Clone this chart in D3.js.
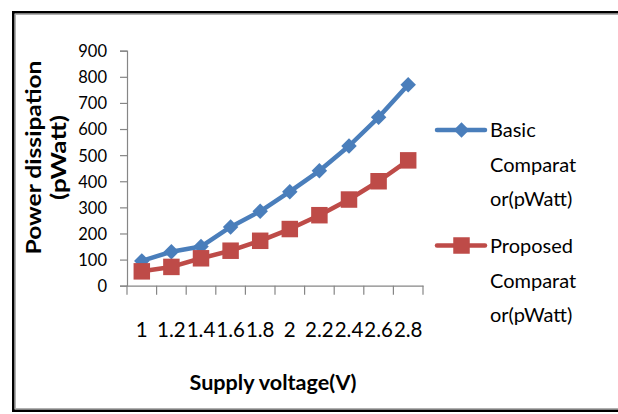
<!DOCTYPE html>
<html>
<head>
<meta charset="utf-8">
<script src="https://cdn.jsdelivr.net/npm/d3@7"></script>
<style>
  html, body { margin: 0; padding: 0; background: #fff; }
  svg { display: block; }
  text { font-family: Lato, "Open Sans", sans-serif; fill: #000; }
</style>
</head>
<body>
<svg id="chart" width="618" height="414"></svg>
<script>
// ---- data ----
const categories = ["1", "1.2", "1.4", "1.6", "1.8", "2", "2.2", "2.4", "2.6", "2.8"];
const basicValues = [95, 130, 150, 225, 285, 360, 440, 535, 645, 770];
const proposedValues = [55, 72, 105, 134, 172, 217, 270, 330, 400, 480];
const yTicks = [0, 100, 200, 300, 400, 500, 600, 700, 800, 900];
const seriesNames = [["Basic", "Comparat", "or(pWatt)"], ["Proposed", "Comparat", "or(pWatt)"]];
const xTitle = "Supply voltage(V)";
const yTitleLines = ["Power dissipation", "(pWatt)"];

const blue = "#4a7ebb", red = "#be4b48";

const svg = d3.select("#chart");

// frame
svg.append("rect").attr("x", 13.25).attr("y", 12.25).attr("width", 640).attr("height", 398.5)
  .attr("fill", "none").attr("stroke", "#000").attr("stroke-width", 2.5);
svg.append("rect").attr("x", 15.5).attr("y", 14.5).attr("width", 640).attr("height", 394)
  .attr("fill", "none").attr("stroke", "#b0b0b0").attr("stroke-width", 1);

const pLeft = 127, pRight = 423, pTop = 50.7, pBottom = 285.7;
const x = d3.scaleBand().domain(categories).range([pLeft, pRight]);
const y = d3.scaleLinear().domain([0, 900]).range([pBottom, pTop]);

// y axis
const yAxis = svg.append("g").attr("transform", `translate(${pLeft},0)`)
  .call(d3.axisLeft(y).tickValues(yTicks).tickSize(7).tickPadding(13).tickFormat(d3.format("d")));
yAxis.select(".domain").attr("stroke", "#868686").attr("stroke-width", 1.2);
yAxis.selectAll(".tick line").attr("stroke", "#868686").attr("stroke-width", 1.2);
yAxis.selectAll("text").attr("font-size", 16.5).attr("font-family", "Lato, sans-serif")
  .attr("fill", "#000").attr("dy", "0.36em");

// x axis
const xAxis = svg.append("g").attr("transform", `translate(0,${pBottom})`)
  .call(d3.axisBottom(x).tickSize(0).tickFormat(""));
xAxis.select(".domain").attr("stroke", "#868686").attr("stroke-width", 1.2);
const boundaries = categories.map(c => x(c)).concat([x(categories[categories.length - 1]) + x.bandwidth()]);
xAxis.selectAll(".btick").data(boundaries).join("line").attr("class", "btick")
  .attr("x1", d => d).attr("x2", d => d).attr("y1", 0).attr("y2", 9)
  .attr("stroke", "#868686").attr("stroke-width", 1.2);
svg.append("g").selectAll("text").data(categories).join("text")
  .attr("x", d => x(d) + x.bandwidth() / 2).attr("y", 337)
  .attr("text-anchor", "middle").attr("font-size", 20.5).text(d => d);

// titles
svg.append("text").attr("x", 273).attr("y", 390).attr("text-anchor", "middle")
  .attr("font-size", 21).attr("font-weight", "bold")
  .attr("textLength", 167).attr("lengthAdjust", "spacingAndGlyphs").text(xTitle);
const yt = svg.append("g").attr("transform", "translate(0,157.5) rotate(-90)");
yt.append("text").attr("x", 0).attr("y", 40.5).attr("text-anchor", "middle")
  .attr("font-size", 21).attr("font-weight", "bold")
  .attr("textLength", 194).attr("lengthAdjust", "spacingAndGlyphs").text(yTitleLines[0]);
yt.append("text").attr("x", 0).attr("y", 66).attr("text-anchor", "middle")
  .attr("font-size", 21).attr("font-weight", "bold")
  .attr("textLength", 85).attr("lengthAdjust", "spacingAndGlyphs").text(yTitleLines[1]);

// lines
const line = d3.line().x((d, i) => x(categories[i]) + x.bandwidth() / 2).y(d => y(d));
const diamond = d3.symbol(d3.symbolSquare, 120);
const square = d3.symbol(d3.symbolSquare, 272);

function drawSeries(vals, color, sym, rot) {
  svg.append("path").datum(vals).attr("d", line).attr("fill", "none")
    .attr("stroke", color).attr("stroke-width", 4.5).attr("stroke-linejoin", "round");
  svg.append("g").selectAll("path").data(vals).join("path")
    .attr("transform", (d, i) => `translate(${x(categories[i]) + x.bandwidth() / 2},${y(d)}) rotate(${rot})`)
    .attr("d", sym).attr("fill", color);
}
drawSeries(basicValues, blue, diamond, 45);
drawSeries(proposedValues, red, square, 0);

// legend
const legend = [
  { names: seriesNames[0], color: blue, sym: diamond, rot: 45, ly: 130, base: 137 },
  { names: seriesNames[1], color: red, sym: square, rot: 0, ly: 245.5, base: 253 }
];
legend.forEach(l => {
  const g = svg.append("g");
  g.append("line").attr("x1", 437).attr("x2", 485).attr("y1", l.ly).attr("y2", l.ly)
    .attr("stroke", l.color).attr("stroke-width", 4.5).attr("stroke-linecap", "round");
  g.append("path").attr("transform", `translate(461.5,${l.ly}) rotate(${l.rot})`)
    .attr("d", l.sym).attr("fill", l.color);
  l.names.forEach((n, i) => {
    g.append("text").attr("x", 490).attr("y", l.base + i * 34.5).attr("font-size", 20).text(n);
  });
});
</script>
</body>
</html>
